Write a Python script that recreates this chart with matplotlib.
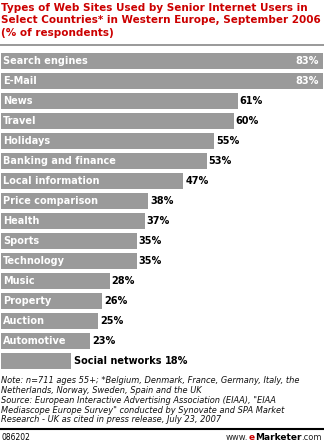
import matplotlib
matplotlib.use("Agg")
import matplotlib.pyplot as plt

categories = ["Search engines", "E-Mail", "News", "Travel", "Holidays",
              "Banking and finance", "Local information", "Price comparison",
              "Health", "Sports", "Technology", "Music", "Property", "Auction",
              "Automotive", "Social networks"]
values = [83, 83, 61, 60, 55, 53, 47, 38, 37, 35, 35, 28, 26, 25, 23, 18]

title = ("Types of Web Sites Used by Senior Internet Users in\n"
         "Select Countries* in Western Europe, September 2006\n"
         "(% of respondents)")
note = ("Note: n=711 ages 55+; *Belgium, Denmark, France, Germany, Italy, the\n"
        "Netherlands, Norway, Sweden, Spain and the UK\n"
        "Source: European Interactive Advertising Association (EIAA), \"EIAA\n"
        "Mediascope Europe Survey\" conducted by Synovate and SPA Market\n"
        "Research - UK as cited in press release, July 23, 2007")

W, H = 324, 443
fig = plt.figure(figsize=(W / 100, H / 100), dpi=100)
fig.patch.set_facecolor("white")

def fx(px):
    return px / W

def fy(py):
    return 1 - py / H

red = "#cc0000"
bar_col = "#9a9a9a"

fig.text(fx(1), fy(3), title, color=red, fontsize=7.5, fontweight="bold",
         va="top", ha="left", linespacing=1.3, family="DejaVu Sans")
fig.add_artist(plt.Line2D([0, 1], [fy(45), fy(45)], color="#888888", lw=1.2))

ax = fig.add_axes([fx(1), fy(371), fx(322), fy(51) - fy(371)])
ax.barh(range(len(values)), values, height=0.8, color=bar_col)
ax.set_xlim(0, 83)
ax.set_ylim(len(values) - 0.5, -0.5)
ax.axis("off")

lab = dict(fontsize=7, fontweight="bold", va="center", textcoords="offset points")
for i, (cat, v) in enumerate(zip(categories, values)):
    if v >= 80:
        ax.annotate(cat, (0, i), xytext=(1.5, 0), color="white", **lab)
        ax.annotate(f"{v}%", (v, i), xytext=(-3, 0), color="white", ha="right", **lab)
    elif cat == "Social networks":
        ax.annotate(cat, (v, i), xytext=(2, 0), color="black", **lab)
        ax.annotate(f"{v}%", (v, i), xytext=(68, 0), color="black", **lab)
    else:
        ax.annotate(cat, (0, i), xytext=(1.5, 0), color="white", **lab)
        ax.annotate(f"{v}%", (v, i), xytext=(1.5, 0), color="black", **lab)

fig.text(fx(1), fy(376), note, fontsize=5.95, style="italic", va="top", ha="left",
         linespacing=1.12, color="#111111")
fig.add_artist(plt.Line2D([0, 1], [fy(429), fy(429)], color="black", lw=1.5))
fig.text(fx(1), fy(437), "086202", fontsize=5.5, va="center", ha="left")

# footer logo: www.eMarketer.com with the red e
t1 = fig.text(fx(226), fy(437), "www.", fontsize=6, va="center", ha="left", color="#222222")
fig.canvas.draw()
r = fig.canvas.get_renderer()
bb = t1.get_window_extent(r)
t2 = fig.text(bb.x1 / W, fy(437), "e", fontsize=6.5, va="center", ha="left",
              color=red, fontweight="bold")
bb = t2.get_window_extent(r)
t3 = fig.text(bb.x1 / W, fy(437), "Marketer", fontsize=6.5, va="center", ha="left",
              color="black", fontweight="bold")
bb = t3.get_window_extent(r)
fig.text(bb.x1 / W, fy(437), ".com", fontsize=6, va="center", ha="left", color="#222222")

fig.savefig("out.png", dpi=100)
